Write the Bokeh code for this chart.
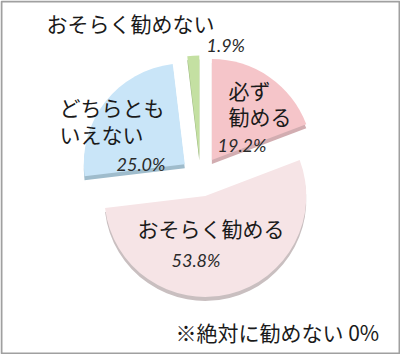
import math
from bokeh.plotting import figure
from bokeh.models import Range1d
from bokeh.core.properties import value
from bokeh.embed import file_html
from bokeh.resources import INLINE

# ---- data ----
categories = ["必ず勧める", "おそらく勧める", "どちらともいえない", "おそらく勧めない"]
values = [19.2, 53.8, 25.0, 1.9]
pct_labels = ["19.2%", "53.8%", "25.0%", "1.9%"]
note = "※絶対に勧めない 0%"

colors = ["#f5c5c9", "#f6e4e6", "#c9e5f8", "#c4e0a2"]
shadow_colors = ["#d2adb1", "#c9bfc0", "#9fbccc", "#9cb880"]

W, H = 400, 354
p = figure(width=W, height=H, output_backend="svg", toolbar_location=None,
           x_range=Range1d(0, W), y_range=Range1d(0, H), min_border=0)
p.axis.visible = False
p.grid.visible = False
p.outline_line_color = None
p.background_fill_color = "white"
p.border_fill_color = "white"

def Y(yp):
    return H - yp

cx, cy = 200, Y(176)
R = 101
EXPL = 20
total = sum(values)

wx, wy, ws, we = [], [], [], []
cum = 0.0
for v in values:
    a0 = math.pi / 2 - 2 * math.pi * cum / total
    a1 = math.pi / 2 - 2 * math.pi * (cum + v) / total
    m = (a0 + a1) / 2
    wx.append(cx + EXPL * math.cos(m))
    wy.append(cy + EXPL * math.sin(m))
    ws.append(a0)
    we.append(a1)
    cum += v

# 3D depth (shadow) wedges
p.wedge(x=wx, y=[y - 4 for y in wy], radius=R, start_angle=ws, end_angle=we,
        direction="clock", fill_color=shadow_colors, line_color=None)
# main wedges
p.wedge(x=wx, y=wy, radius=R, start_angle=ws, end_angle=we,
        direction="clock", fill_color=colors, line_color=None)

lab_font = value("Noto Sans CJK JP")
pct_font = value("Lato")

# category labels (split into lines as in the reference)
lines = [("必ず", 228, 89), ("勧める", 228, 115),
         ("おそらく勧める", 137, 227),
         ("どちらとも", 59, 106), ("いえない", 59, 133),
         ("おそらく勧めない", 46, 22)]
p.text(x=[l[1] for l in lines], y=[Y(l[2]) for l in lines], text=[l[0] for l in lines],
       text_font=lab_font, text_font_size="21px", text_color="#1a1a1a",
       text_align="left", text_baseline="middle")

pct_pos = [(217, 144), (171, 259), (116, 163), (206, 44)]
p.text(x=[q[0] for q in pct_pos], y=[Y(q[1]) for q in pct_pos], text=pct_labels,
       text_font=pct_font, text_font_style="italic", text_font_size="18px",
       text_color="#2a2a2a", text_align="left", text_baseline="middle")

p.text(x=[175], y=[Y(331)], text=[note], text_font=lab_font, text_font_size="21px",
       text_color="#1a1a1a", text_align="left", text_baseline="middle")

# chart border
p.quad(left=[1], right=[W - 1], bottom=[1], top=[H - 1], fill_color=None,
       line_color="#a0a0a0", line_width=2)

open("out.html", "w").write(file_html(p, INLINE))
